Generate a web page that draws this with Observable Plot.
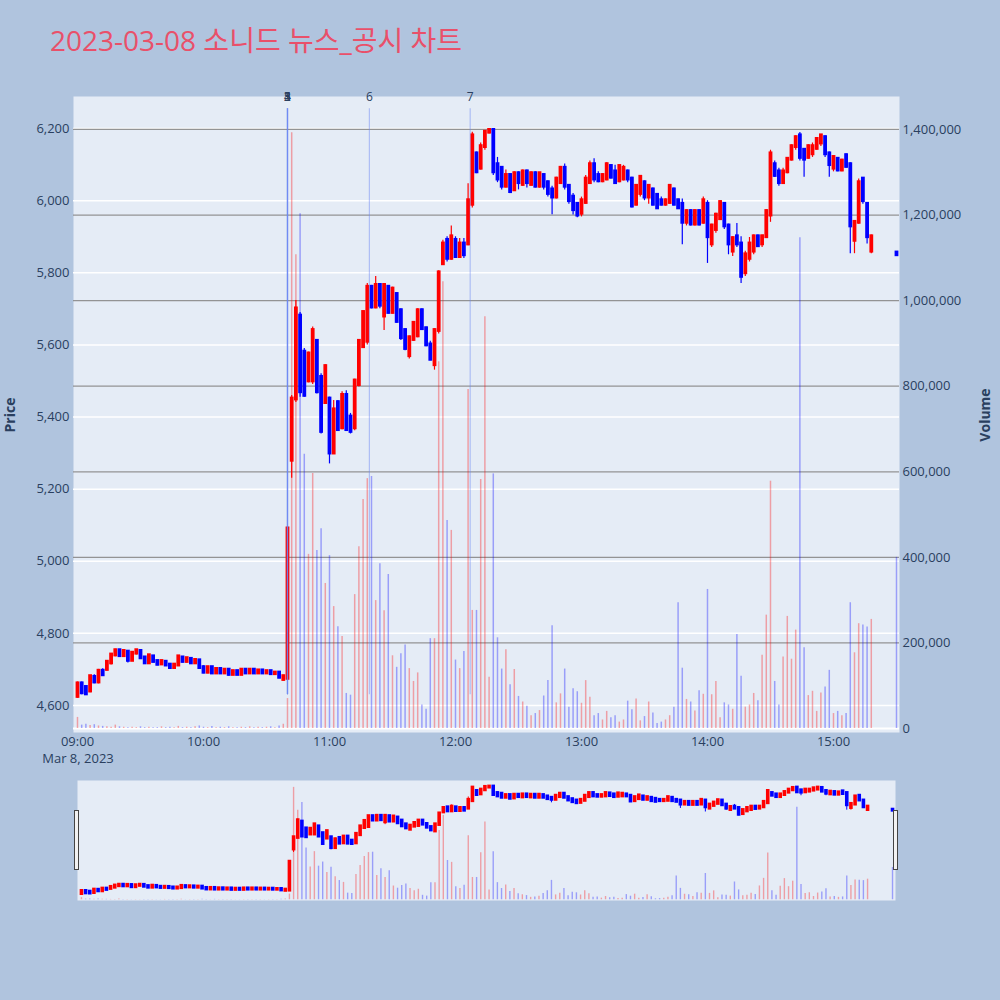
<!DOCTYPE html>
<html lang="ko">
<head>
<meta charset="UTF-8">
<title>2023-03-08 소니드 뉴스_공시 차트</title>
<style>
  body { margin: 0; background: #b0c4de; }
  #chart {
    position: relative;
    width: 1000px;
    height: 1000px;
    background: #b0c4de;
    font-family: 'Open Sans', 'Noto Sans CJK KR', sans-serif;
    overflow: hidden;
  }
  .layer { position: absolute; left: 0; width: 1000px; }
  .layer svg { display: block; }
  .handle {
    position: absolute;
    top: 810px;
    width: 3px;
    height: 58px;
    background: #f2f2f2;
    border: 1px solid #444;
  }
</style>
</head>
<body>
<div id="chart">
  <div class="layer" id="base" style="top:0"></div>
  <div class="layer" id="vol" style="top:0"></div>
  <div class="layer" id="price" style="top:0"></div>
  <div class="layer" id="sliderVol" style="top:780px"></div>
  <div class="layer" id="sliderPrice" style="top:780px"></div>
  <div class="handle" style="left:74px"></div>
  <div class="handle" style="left:893px"></div>
  <svg class="layer" width="1000" height="1000" style="top:0;pointer-events:none;font-family:'Open Sans','Noto Sans CJK KR',sans-serif">
    <text x="50" y="51" fill="#e9506a" font-size="28">2023-03-08 소니드 뉴스_공시 차트</text>
    <text x="78" y="763" fill="#2a3f5f" font-size="13" text-anchor="middle">Mar 8, 2023</text>
    <text transform="translate(15,415) rotate(-90)" fill="#2a3f5f" font-size="14" font-weight="bold" text-anchor="middle">Price</text>
    <text transform="translate(990,415) rotate(-90)" fill="#2a3f5f" font-size="14" font-weight="bold" text-anchor="middle">Volume</text>
  </svg>
</div>

<script src="https://cdn.jsdelivr.net/npm/d3@7"></script>
<script src="https://cdn.jsdelivr.net/npm/@observablehq/plot@0.6"></script>
<script>
// 2-minute bars, 09:00 .. 15:18, then the 15:30 closing auction
const sessionStart = "09:00";
const sessionEnd = "15:20";
const stepMinutes = 2;
const closingTime = "15:30";

const opens = [
  4625,4660,4650,4640,4678,4665,4695,4700,4718,4740,
  4752,4738,4748,4725,4745,4750,4732,4718,4735,4722,
  4715,4720,4712,4705,4712,4732,4722,4728,4718,4724,
  4705,4692,4705,4690,4700,4690,4698,4686,4694,4686,
  4698,4690,4698,4690,4696,4690,4694,4688,4690,4672,
  4675,5280,5450,5680,5580,5500,5500,5610,5510,5440,
  5450,5300,5440,5370,5460,5400,5370,5490,5595,5610,
  5760,5705,5765,5680,5760,5690,5740,5695,5640,5570,
  5615,5625,5695,5645,5600,5545,5640,5825,5890,5840,
  5890,5845,5880,5880,5990,6130,6090,6150,6190,6195,
  6100,6090,6040,6070,6030,6075,6045,6080,6045,6075,
  6040,6070,6050,6030,6010,6050,6090,6040,6010,5990,
  5965,5995,6050,6100,6070,6055,6060,6095,6080,6055,
  6060,6080,6060,5990,6020,6050,6010,6030,6015,6000,
  5990,5995,6030,6000,5990,5940,5970,5935,5970,5940,
  5990,5880,5920,5950,5990,5930,5860,5900,5880,5800,
  5840,5860,5900,5880,5900,5960,6100,6080,6050,6080,
  6115,6150,6180,6140,6120,6130,6145,6160,6175,6130,
  6090,6115,6085,6125,6100,5890,5940,6060,5990,5860,
  5855
];
const closes = [
  4660,4635,4632,4680,4665,4695,4685,4720,4740,4752,
  4738,4750,4725,4745,4752,4732,4718,4738,4722,4714,
  4722,4712,4705,4712,4735,4722,4730,4718,4725,4705,
  4692,4705,4690,4700,4690,4698,4686,4694,4686,4698,
  4690,4698,4690,4696,4690,4694,4688,4690,4678,4680,
  5090,5450,5700,5470,5460,5575,5640,5470,5360,5540,
  5300,5420,5365,5460,5365,5360,5500,5610,5690,5760,
  5705,5765,5710,5765,5690,5755,5665,5620,5590,5620,
  5660,5695,5645,5600,5560,5640,5800,5880,5840,5900,
  5845,5880,5850,6000,6180,6080,6150,6190,6195,6080,
  6060,6040,6070,6025,6075,6050,6080,6050,6075,6040,
  6075,6040,6020,6010,6060,6090,6040,6000,5975,5960,
  6000,6060,6100,6060,6055,6070,6100,6065,6050,6095,
  6090,6060,5985,6040,6065,6010,6040,5990,5980,5990,
  6000,6040,5990,5980,5940,5970,5935,5970,5935,6000,
  5900,5930,5960,5995,5930,5880,5895,5880,5790,5850,
  5880,5900,5875,5900,5970,6130,6070,6050,6080,6115,
  6150,6175,6120,6115,6150,6150,6170,6180,6130,6100,
  6120,6085,6110,6095,5930,5940,6050,6000,5900,5900,
  5850
];
const highs = [
  4665,4665,4655,4682,4685,4700,4702,4725,4742,4756,
  4755,4753,4750,4750,4755,4752,4735,4740,4738,4725,
  4725,4722,4715,4715,4738,4735,4733,4730,4728,4726,
  4710,4708,4708,4702,4702,4700,4700,4698,4698,4700,
  4700,4702,4700,4698,4698,4696,4696,4692,4692,4684,
  5095,5460,5723,5690,5590,5580,5650,5615,5520,5545,
  5455,5446,5446,5470,5473,5410,5505,5615,5695,5770,
  5765,5790,5770,5770,5765,5760,5745,5700,5645,5625,
  5665,5700,5700,5650,5610,5645,5806,5890,5900,5930,
  5900,5895,5895,6047,6190,6135,6160,6195,6200,6200,
  6120,6092,6085,6075,6080,6080,6085,6085,6080,6080,
  6078,6075,6055,6040,6065,6095,6102,6045,6020,5995,
  6010,6070,6110,6116,6080,6075,6105,6100,6098,6098,
  6098,6085,6065,6045,6070,6055,6045,6035,6020,6010,
  6005,6045,6035,6005,6005,5975,5975,5975,5975,6010,
  6000,5935,5965,6000,5995,5935,5900,5937,5900,5860,
  5898,5905,5905,5905,5975,6140,6110,6090,6090,6120,
  6155,6180,6189,6145,6155,6160,6175,6181,6180,6135,
  6125,6120,6115,6130,6105,5945,6060,6062,5995,5905,
  5855
];
const lows = [
  4620,4630,4628,4635,4660,4660,4680,4695,4712,4735,
  4735,4735,4718,4722,4740,4728,4714,4715,4718,4710,
  4712,4708,4702,4700,4710,4718,4718,4715,4714,4700,
  4688,4688,4686,4686,4686,4686,4682,4684,4684,4684,
  4686,4688,4686,4688,4688,4688,4686,4684,4674,4668,
  4670,5230,5440,5455,5455,5495,5490,5464,5353,5436,
  5270,5297,5360,5365,5360,5353,5362,5483,5590,5600,
  5700,5700,5700,5640,5686,5686,5660,5612,5584,5561,
  5610,5620,5640,5595,5556,5530,5630,5820,5830,5835,
  5840,5840,5840,5875,5980,6075,6085,6140,6185,6070,
  6050,6030,6035,6020,6028,6030,6040,6035,6040,6035,
  6035,6030,6010,5961,6005,6045,6030,5990,5960,5953,
  5955,5990,6045,6050,6050,6050,6055,6060,6045,6050,
  6055,6050,5980,5985,6010,6000,5990,5985,5976,5985,
  5985,5990,5985,5976,5878,5930,5930,5930,5930,5935,
  5826,5870,5910,5945,5920,5850,5845,5870,5770,5790,
  5830,5850,5870,5870,5895,5940,6064,6040,6045,6075,
  6110,6140,6110,6065,6115,6120,6140,6150,6120,6065,
  6080,6080,6080,6090,5853,5853,5935,5990,5880,5853,
  5850
];
const volumes = [
  26000,8000,10000,7000,9000,6000,5000,4000,3000,8000,
  4000,3000,2000,3000,2000,4000,2000,3000,2000,2000,
  4000,2000,3000,2000,5000,2000,3000,2000,4000,6000,
  3000,2000,5000,2000,3000,2000,4000,2000,2000,3000,
  2000,4000,2000,3000,2000,3000,4000,2000,6000,10000,
  70000,1392000,1107000,1203000,641000,407000,596000,416000,467000,339000,
  404000,285000,238000,215000,82000,78000,313000,425000,535000,584000,
  589000,299000,385000,275000,360000,170000,143000,175000,195000,140000,
  110000,130000,55000,45000,210000,210000,857000,1044000,486000,463000,
  160000,140000,180000,792000,276000,276000,582000,962000,120000,595000,
  212000,139000,184000,102000,138000,75000,62000,52000,30000,35000,
  42000,76000,112000,240000,60000,81000,139000,50000,93000,86000,
  59000,112000,73000,30000,35000,20000,40000,25000,30000,15000,
  20000,64000,44000,69000,18000,28000,62000,36000,12000,15000,
  20000,30000,50000,294000,141000,68000,62000,41000,88000,80000,
  325000,79000,110000,25000,60000,55000,45000,220000,122000,50000,
  55000,82000,65000,171000,265000,578000,110000,55000,167000,262000,
  162000,230000,1147000,189000,77000,87000,40000,83000,97000,136000,
  35000,40000,30000,35000,294000,177000,245000,242000,237000,255000,
  400000
];

// news / disclosure markers
const newsTimes = ["10:40", "10:40", "10:40", "10:40", "10:40", "11:19", "12:07"];
const newsLabels = ["1", "2", "3", "4", "5", "6", "7"];

// axis ticks
const priceTicks = [4600, 4800, 5000, 5200, 5400, 5600, 5800, 6000, 6200];
const volumeTicks = [0, 200000, 400000, 600000, 800000, 1000000, 1200000, 1400000];
const hourTicks = ["09:00", "10:00", "11:00", "12:00", "13:00", "14:00", "15:00"];

const at = (s, sec = 0) => {
  const [h, m] = s.split(":").map(Number);
  return new Date(2023, 2, 8, h, m, sec);
};

const barTimes = d3.timeMinute.every(stepMinutes)
  .range(at(sessionStart), at(sessionEnd))
  .concat([at(closingTime)]);

const bars = barTimes.map((t, i) => ({
  t,
  o: opens[i],
  c: closes[i],
  h: highs[i],
  l: lows[i],
  v: volumes[i],
  up: closes[i] > opens[i]
}));
const news = newsTimes.map((s, i) => ({ t: at(s), label: newsLabels[i] }));

const RED = "#ff0000";
const BLUE = "#0000ff";
const colorOf = d => d.up ? RED : BLUE;

const xDomain = [at("08:58", 6), at("15:31", 26)];
const priceDomain = [4525, 6289];
const volumeDomain = [-9300, 1477000];

const style = {
  background: "transparent",
  overflow: "visible",
  fontFamily: "'Open Sans', sans-serif",
  fontSize: "13px",
  color: "#2a3f5f"
};
const mainBox = {
  width: 1000, height: 760,
  marginTop: 96, marginBottom: 28, marginLeft: 73, marginRight: 101,
  style
};
const sliderBox = {
  width: 1000, height: 120,
  marginTop: 0, marginBottom: 0, marginLeft: 77, marginRight: 105,
  style
};

// background, price grid, left + time axes
const base = Plot.plot({
  ...mainBox,
  x: { type: "time", domain: xDomain },
  y: { domain: priceDomain },
  marks: [
    Plot.frame({ fill: "#e5ecf6" }),
    Plot.gridY(priceTicks, { stroke: "white", strokeOpacity: 1, strokeWidth: 1.5 }),
    Plot.axisY(priceTicks, { anchor: "left", tickSize: 0, tickPadding: 4, tickFormat: d3.format(","), label: null }),
    Plot.axisX(hourTicks.map(s => at(s)), { tickSize: 0, tickPadding: 4, tickFormat: d3.timeFormat("%H:%M"), label: null })
  ]
});
document.querySelector("#base").append(base);

// volume bars on the right axis
const vol = Plot.plot({
  ...mainBox,
  x: { type: "time", domain: xDomain, axis: null },
  y: { domain: volumeDomain },
  marks: [
    Plot.gridY(volumeTicks.filter(d => d > 0), { stroke: "#8a8a8a", strokeOpacity: 0.9, strokeWidth: 1.3 }),
    Plot.ruleY([0], { stroke: "white", strokeWidth: 2 }),
    Plot.ruleX(bars, { x: "t", y1: 0, y2: "v", stroke: colorOf, strokeWidth: 1.5, strokeOpacity: 0.33 }),
    Plot.axisY(volumeTicks, { anchor: "right", tickSize: 0, tickPadding: 3, tickFormat: d3.format(","), label: null })
  ]
});
document.querySelector("#vol").append(vol);

// candles and news markers
const price = Plot.plot({
  ...mainBox,
  x: { type: "time", domain: xDomain, axis: null },
  y: { domain: priceDomain, axis: null },
  marks: [
    Plot.ruleX(bars, { x: "t", y1: "l", y2: "h", stroke: colorOf, strokeWidth: 1.2 }),
    Plot.ruleX(bars, { x: "t", y1: "o", y2: "c", stroke: colorOf, strokeWidth: 3.8, strokeLinecap: "square" }),
    Plot.ruleX(news, { x: "t", y1: 4630, y2: 6255, stroke: "#6a85f5", strokeOpacity: 0.45, strokeWidth: 1.2 }),
    Plot.text(news, { x: "t", text: "label", frameAnchor: "top", lineAnchor: "middle", dy: 1, fill: "#2a3f5f", fontSize: 12 })
  ]
});
document.querySelector("#price").append(price);

// range slider preview
const sliderVol = Plot.plot({
  ...sliderBox,
  x: { type: "time", domain: xDomain, axis: null },
  y: { domain: volumeDomain, axis: null },
  marks: [
    Plot.frame({ fill: "#e5ecf6" }),
    Plot.ruleX(bars, { x: "t", y1: 0, y2: "v", stroke: colorOf, strokeWidth: 1.4, strokeOpacity: 0.33 })
  ]
});
document.querySelector("#sliderVol").append(sliderVol);

const sliderPrice = Plot.plot({
  ...sliderBox,
  x: { type: "time", domain: xDomain, axis: null },
  y: { domain: priceDomain, axis: null },
  marks: [
    Plot.ruleX(bars, { x: "t", y1: "l", y2: "h", stroke: colorOf, strokeWidth: 1 }),
    Plot.ruleX(bars, { x: "t", y1: "o", y2: "c", stroke: colorOf, strokeWidth: 3.6, strokeLinecap: "square" })
  ]
});
document.querySelector("#sliderPrice").append(sliderPrice);
</script>
</body>
</html>
